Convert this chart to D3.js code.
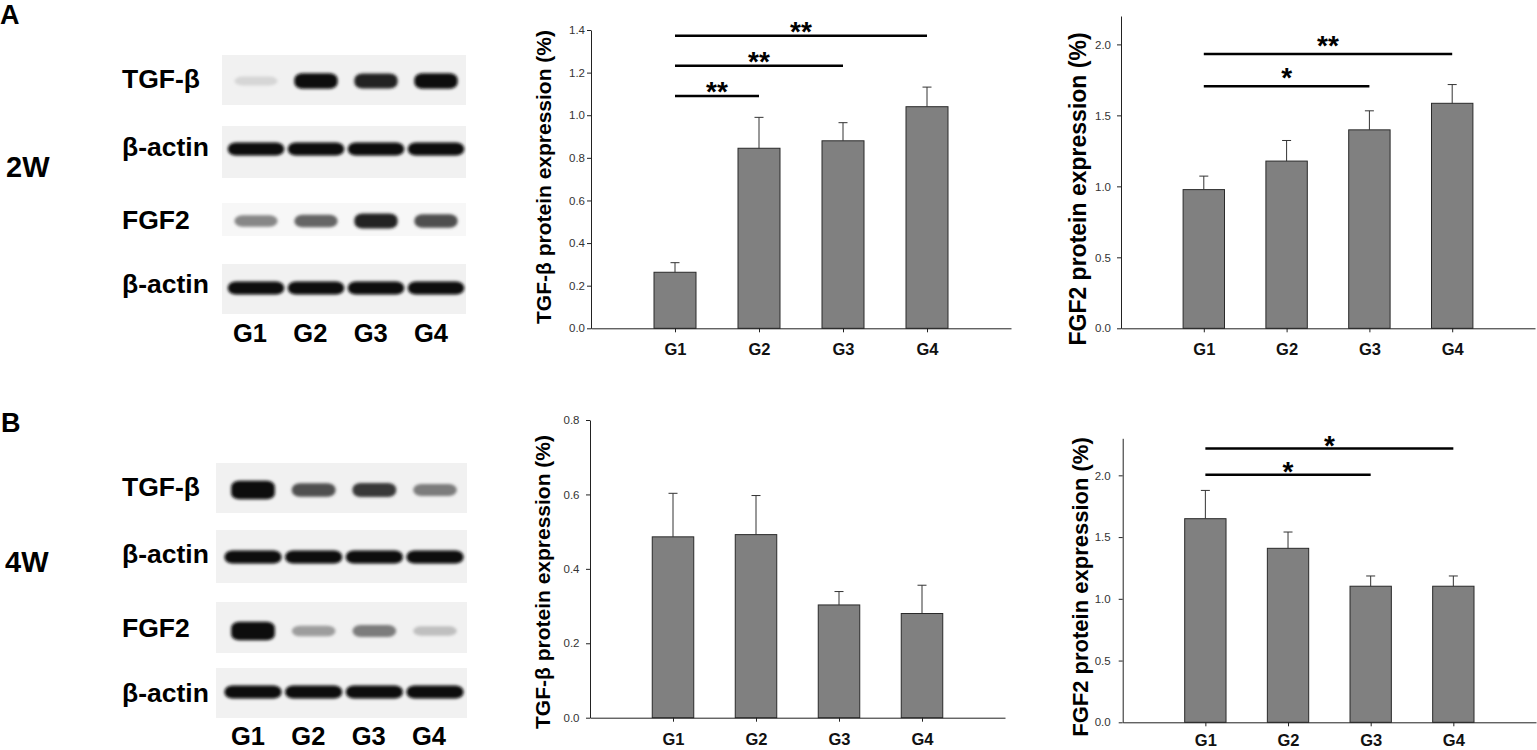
<!DOCTYPE html>
<html>
<head>
<meta charset="utf-8">
<script src="https://cdn.jsdelivr.net/npm/d3@7"></script>
<style>
  body { margin: 0; background: #fff; }
  svg { display: block; font-family: Arial, "Liberation Sans", sans-serif; }
</style>
</head>
<body>
<div id="figure"></div>
<script>
// groups shared by blots and bar charts
const groups = ["G1", "G2", "G3", "G4"];
const blotRows = ["TGF-β", "β-actin", "FGF2", "β-actin"];

const blot2w = [[0.1, 1, 0.9, 1], [1, 1.05, 0.9, 1], [0.45, 0.6, 0.9, 0.7], [1, 0.95, 0.9, 1]];
const blot4w = [[1.4, 0.7, 0.8, 0.5], [1, 0.9, 1, 1], [1.4, 0.35, 0.5, 0.2], [0.95, 0.95, 1.05, 1.05]];

// bar values (mean) and upper error (SEM)
const tgf2wMean = [0.263, 0.845, 0.88, 1.04];
const tgf2wErr = [0.045, 0.145, 0.085, 0.092];
const fgf2wMean = [0.977, 1.178, 1.398, 1.585];
const fgf2wErr = [0.095, 0.145, 0.134, 0.132];
const tgf4wMean = [0.486, 0.492, 0.303, 0.28];
const tgf4wErr = [0.117, 0.105, 0.036, 0.076];
const fgf4wMean = [1.649, 1.409, 1.102, 1.102];
const fgf4wErr = [0.229, 0.132, 0.083, 0.083];

// y tick values
const tgf2wTicks = [0, 0.2, 0.4, 0.6, 0.8, 1.0, 1.2, 1.4];
const fgf2wTicks = [0, 0.5, 1.0, 1.5, 2.0];
const tgf4wTicks = [0, 0.2, 0.4, 0.6, 0.8];
const fgf4wTicks = [0, 0.5, 1.0, 1.5, 2.0];

// significance brackets
const tgf2wSig = [
  { from: "G1", to: "G2", y: 1.09, mark: "**" },
  { from: "G1", to: "G3", y: 1.232, mark: "**" },
  { from: "G1", to: "G4", y: 1.373, mark: "**" }
];
const fgf2wSig = [
  { from: "G1", to: "G3", y: 1.705, mark: "*" },
  { from: "G1", to: "G4", y: 1.932, mark: "**" }
];
const tgf4wSig = [];
const fgf4wSig = [
  { from: "G1", to: "G3", y: 2.005, mark: "*" },
  { from: "G1", to: "G4", y: 2.217, mark: "*" }
];

let svg = d3.select("#figure")
  .append("svg")
  .attr("width", 1537)
  .attr("height", 750);

svg.append("rect").attr("width", 1537).attr("height", 750).attr("fill", "#fff");

// blur for blot bands
svg.append("defs").append("filter")
  .attr("id", "blur")
  .attr("x", "-20%").attr("y", "-60%").attr("width", "140%").attr("height", "220%")
  .append("feGaussianBlur")
  .attr("stdDeviation", 1.8);

// panel letters and time labels
svg.append("text").attr("x", 0).attr("y", 24).attr("font-size", 27).attr("font-weight", "bold").text("A");
svg.append("text").attr("x", 1).attr("y", 432).attr("font-size", 27).attr("font-weight", "bold").text("B");
svg.append("text").attr("x", 6).attr("y", 177).attr("font-size", 29).attr("font-weight", "bold").text("2W");
svg.append("text").attr("x", 5).attr("y", 572).attr("font-size", 29).attr("font-weight", "bold").text("4W");

// draws one blot block: strips, blurred bands, row names, lane labels
function drawBlot(data, cfg) {
  let lane = d3.scalePoint().domain(groups).range(cfg.lanes);
  let labelX = d3.scalePoint().domain(groups).range(cfg.labels);
  let shade = d3.scaleLinear().domain([0, 1]).range(["#ececec", "#0b0b0b"]).clamp(true);
  let step = lane.step();

  data.forEach(function(row, r) {
    let s = cfg.strips[r];
    let isActin = blotRows[r] === "β-actin";
    svg.append("rect")
      .attr("x", cfg.stripX[0]).attr("y", s[0])
      .attr("width", cfg.stripX[1] - cfg.stripX[0]).attr("height", s[1] - s[0])
      .attr("fill", r === 2 && cfg.lightFgf ? "#f7f7f7" : "#f1f1f1");

    let cy = s[2];
    svg.append("g").attr("filter", "url(#blur)")
      .selectAll("ellipse")
      .data(row)
      .enter()
      .append("rect")
      .attr("x", function(d, i) { return lane(groups[i]) - (isActin ? 0.47 : 0.36) * step; })
      .attr("width", (isActin ? 0.94 : 0.72) * step)
      .attr("y", function(d) { return cy - (isActin ? 6.5 : 4 + 3.8 * d); })
      .attr("height", function(d) { return isActin ? 13 : 8 + 7.6 * d; })
      .attr("rx", 8)
      .attr("ry", 6)
      .attr("fill", function(d) { return shade(isActin ? 1 : d); });

    svg.append("text")
      .attr("x", 122).attr("y", cfg.names[r])
      .attr("font-size", 26.5).attr("font-weight", "bold")
      .text(blotRows[r]);
  });

  svg.append("g").selectAll("text")
    .data(groups)
    .enter()
    .append("text")
    .attr("x", function(d) { return labelX(d); })
    .attr("y", cfg.labelY)
    .attr("text-anchor", "middle")
    .attr("font-size", 25.5).attr("font-weight", "bold")
    .text(function(d) { return d; });
}

drawBlot(blot2w, {
  lanes: [256, 436], labels: [250, 431], labelY: 342, stripX: [222, 466], lightFgf: true,
  strips: [[55, 105, 81], [126, 178, 149], [203, 236, 221], [264, 314, 288]],
  names: [88, 156, 229, 293]
});
drawBlot(blot4w, {
  lanes: [253, 435], labels: [248, 429], labelY: 745, stripX: [216, 467], lightFgf: false,
  strips: [[463, 513, 490], [530, 583, 557], [602, 653, 631], [668, 718, 692]],
  names: [496, 563, 637, 702]
});

// draws one bar chart with error bars and significance lines
function drawChart(means, errs, ticks, sig, cfg) {
  let g = svg.append("g");
  let y = d3.scaleLinear().domain([0, cfg.yMax]).range([cfg.y0, cfg.yTop]);
  let x = d3.scalePoint().domain(groups).range([cfg.x0, cfg.x1]).padding(1);
  let bw = x.step() / 2;

  // bars
  g.selectAll(".bar")
    .data(means)
    .enter()
    .append("rect")
    .attr("class", "bar")
    .attr("x", function(d, i) { return x(groups[i]) - bw / 2; })
    .attr("y", function(d) { return y(d); })
    .attr("width", bw)
    .attr("height", function(d) { return y(0) - y(d); })
    .attr("fill", "#808080")
    .attr("stroke", "#2a2a2a")
    .attr("stroke-width", 1);

  // error bars (upper only)
  let eb = g.selectAll(".err")
    .data(means)
    .enter()
    .append("g")
    .attr("class", "err")
    .attr("stroke", "#333")
    .attr("stroke-width", 1);
  eb.append("line")
    .attr("x1", function(d, i) { return x(groups[i]); })
    .attr("x2", function(d, i) { return x(groups[i]); })
    .attr("y1", function(d) { return y(d); })
    .attr("y2", function(d, i) { return y(d + errs[i]); });
  eb.append("line")
    .attr("x1", function(d, i) { return x(groups[i]) - 4.5; })
    .attr("x2", function(d, i) { return x(groups[i]) + 4.5; })
    .attr("y1", function(d, i) { return y(d + errs[i]); })
    .attr("y2", function(d, i) { return y(d + errs[i]); });

  // axes
  let ya = g.append("g")
    .attr("transform", "translate(" + cfg.x0 + ",0)")
    .call(d3.axisLeft(y).tickValues(ticks).tickFormat(d3.format(".1f")).tickSize(4).tickPadding(cfg.pad).tickSizeOuter(0));
  ya.selectAll("text").attr("font-size", 11.5).attr("fill", "#333").attr("font-family", null);
  ya.selectAll("line, path").attr("stroke", "#222");

  let xa = g.append("g")
    .attr("transform", "translate(0," + cfg.y0 + ")")
    .call(d3.axisBottom(x).tickSize(4).tickSizeOuter(0));
  xa.selectAll("text")
    .attr("y", cfg.xLabel).attr("dy", 0)
    .attr("font-size", 16.5).attr("font-weight", "bold").attr("fill", "#111").attr("font-family", null);
  xa.selectAll("line, path").attr("stroke", "#222");

  // axis title
  g.append("text")
    .attr("transform", "translate(" + cfg.titleX + "," + cfg.titleY + ") rotate(-90)")
    .attr("text-anchor", "middle")
    .attr("dy", "0.36em")
    .attr("font-size", cfg.titleSize)
    .attr("font-weight", "bold")
    .text(cfg.title);

  // significance lines and stars
  let s = g.selectAll(".sig")
    .data(sig)
    .enter()
    .append("g")
    .attr("class", "sig");
  s.append("line")
    .attr("x1", function(d) { return x(d.from); })
    .attr("x2", function(d) { return x(d.to); })
    .attr("y1", function(d) { return y(d.y); })
    .attr("y2", function(d) { return y(d.y); })
    .attr("stroke", "#000")
    .attr("stroke-width", 2.5);
  s.append("text")
    .attr("x", function(d) { return (x(d.from) + x(d.to)) / 2; })
    .attr("y", function(d) { return y(d.y) - cfg.starGap + 15.5; })
    .attr("text-anchor", "middle")
    .attr("font-size", 28)
    .attr("font-weight", "bold")
    .text(function(d) { return d.mark; });
}

drawChart(tgf2wMean, tgf2wErr, tgf2wTicks, tgf2wSig, {
  x0: 591, x1: 1011, y0: 328.3, yTop: 30, yMax: 1.4, pad: 2, xLabel: 27,
  title: "TGF-β protein expression (%)", titleX: 543, titleY: 177, titleSize: 21, starGap: 10.5
});
drawChart(fgf2wMean, fgf2wErr, fgf2wTicks, fgf2wSig, {
  x0: 1121, x1: 1535, y0: 328.3, yTop: 16, yMax: 2.2, pad: 6, xLabel: 27,
  title: "FGF2 protein expression (%)", titleX: 1078, titleY: 189, titleSize: 23, starGap: 14.5
});
drawChart(tgf4wMean, tgf4wErr, tgf4wTicks, tgf4wSig, {
  x0: 590, x1: 1005, y0: 717.7, yTop: 420, yMax: 0.8, pad: 6.5, xLabel: 27,
  title: "TGF-β protein expression (%)", titleX: 542, titleY: 582, titleSize: 21, starGap: 10
});
drawChart(fgf4wMean, fgf4wErr, fgf4wTicks, fgf4wSig, {
  x0: 1122.7, x1: 1536, y0: 722.3, yTop: 438.3, yMax: 2.3, pad: 8, xLabel: 24,
  title: "FGF2 protein expression (%)", titleX: 1080.5, titleY: 587, titleSize: 22, starGap: 9.5
});
</script>
</body>
</html>
